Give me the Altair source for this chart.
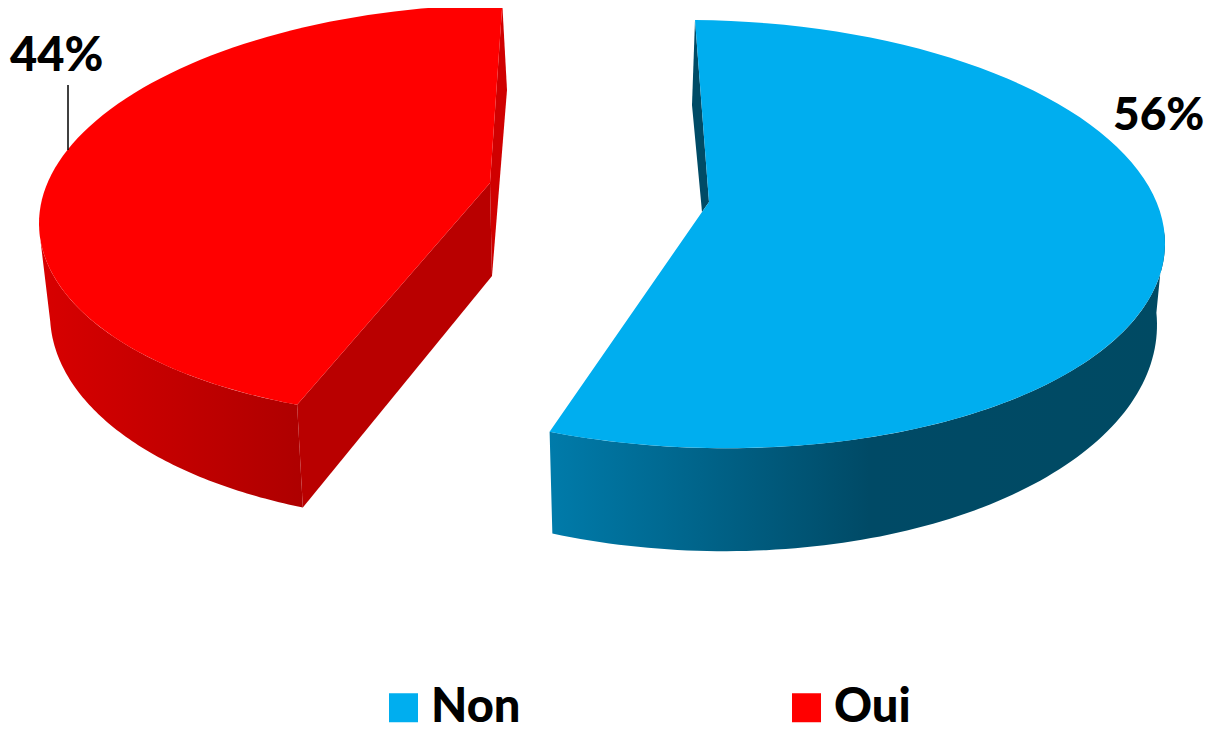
import math
import altair as alt

labels = ["Non", "Oui"]
shares = [56, 44]
colors = ["#00AEEF", "#FF0000"]
OFF = 8  # page margin


def ell(e, t):
    r = math.radians(t)
    dx = e["a"] * math.cos(r)
    s = math.sin(r)
    b = e["b2"] if s > 0 and "b2" in e else e["b"]
    return [e["cx"] + dx - OFF, e["cy"] + b * s + e["k"] * dx - OFF]


def arc(e, t0, t1, n=90):
    return [ell(e, t0 + (t1 - t0) * i / n) for i in range(n + 1)]


def shift(p):
    return [p[0] - OFF, p[1] - OFF]


def feature(ring, name):
    ring = ring + [ring[0]]
    return {"type": "Feature", "properties": {"label": name},
            "geometry": {"type": "Polygon", "coordinates": [ring]}}


# slice geometry on the page (tilted-disc look)
non = dict(top=dict(cx=707, cy=234.1, a=458, b=213.9, k=0.02),
           bot=dict(cx=707, cy=316, a=450, b=235, k=0.02),
           t0=-91.5, apex=(709, 202), apex_low=(702, 212), back=(692, 105))
oui = dict(top=dict(cx=480, cy=210, a=441, b=205, b2=208, k=-0.03),
           bot=dict(cx=482, cy=301, a=432, b=221, k=-0.03),
           t0=114.5, apex=(490, 183), apex_low=(492, 276), back=(507, 90))

non_t1 = non["t0"] + shares[0] * 3.6
oui_t1 = oui["t0"] + shares[1] * 3.6

# top faces
face_non = arc(non["top"], non["t0"], non_t1) + [shift(non["apex_low"]), shift(non["apex"])]
face_oui = arc(oui["top"], oui["t0"], oui_t1) + [shift(oui["apex"])]
faces = [feature(face_non, labels[0]), feature(face_oui, labels[1])]

# curved walls
wall_non = arc(non["top"], -3, non_t1) + arc(non["bot"], non_t1, -3)
wall_oui = arc(oui["top"], oui["t0"], 178) + arc(oui["bot"], 178, oui["t0"])

# cut faces
cut_oui = [shift(oui["apex"]), ell(oui["top"], oui["t0"]), ell(oui["bot"], oui["t0"]), shift(oui["apex_low"])]
strip_oui = [ell(oui["top"], oui_t1), shift(oui["back"]), shift(oui["apex_low"]), shift(oui["apex"])]
strip_non = [ell(non["top"], non["t0"]), shift(non["back"]), shift(non["apex_low"]), shift(non["apex"])]

proj = dict(type="identity", scale=1, translate=[0, 0])


def shape(ring, name, fill):
    return (alt.Chart(alt.Data(values=[feature(ring, name)]))
            .mark_geoshape(fill=fill, strokeWidth=0)
            .project(**proj))


grad_non = alt.LinearGradient(gradient="linear", x1=0, x2=1, y1=0, y2=0,
                              stops=[alt.GradientStop(color="#007BAA", offset=0),
                                     alt.GradientStop(color="#004A66", offset=0.52),
                                     alt.GradientStop(color="#004A63", offset=1)])
grad_oui = alt.LinearGradient(gradient="linear", x1=0, x2=1, y1=0, y2=0,
                              stops=[alt.GradientStop(color="#D80000", offset=0),
                                     alt.GradientStop(color="#AE0000", offset=1)])

top = (alt.Chart(alt.Data(values=faces))
       .mark_geoshape(strokeWidth=0)
       .encode(color=alt.Color("properties.label:N",
                               scale=alt.Scale(domain=labels, range=colors),
                               legend=alt.Legend(
                                   title=None, orient="none", direction="horizontal",
                                   legendX=372, legendY=676,
                                   symbolType="square", symbolSize=841, symbolStrokeWidth=0,
                                   symbolOpacity=1, symbolOffset=0,
                                   labelFont="Lato", labelFontSize=47, labelFontWeight=900,
                                   labelColor="#000000", labelOffset=4, labelLimit=300,
                                   columnPadding=262, columns=2)))
       .project(**proj))

text_font = dict(font="Lato", fontSize=47, fontWeight=900, color="#000000", align="left", baseline="alphabetic")
lab_oui = alt.Chart(alt.Data(values=[{"t": f"{shares[1]}%"}])).mark_text(**text_font).encode(
    text="t:N", x=alt.value(2), y=alt.value(63))
lab_non = alt.Chart(alt.Data(values=[{"t": f"{shares[0]}%"}])).mark_text(**{**text_font, "fontSize": 46}).encode(
    text="t:N", x=alt.value(1105), y=alt.value(122))
leader = alt.Chart(alt.Data(values=[{"t": 1}])).mark_rule(color="#000000", strokeWidth=1.5).encode(
    x=alt.value(60), y=alt.value(77), y2=alt.value(142))

chart = alt.layer(
    shape(wall_oui, labels[1], grad_oui),
    shape(strip_oui, labels[1], "#D00000"),
    shape(cut_oui, labels[1], "#B90000"),
    shape(strip_non, labels[0], "#004B66"),
    shape(wall_non, labels[0], grad_non),
    top, lab_oui, lab_non, leader,
).properties(
    width=1198, height=723, padding=0,
    autosize=alt.AutoSizeParams(type="none"),
).configure_view(stroke=None)

chart.save("out.html", embed_options={"renderer": "svg", "actions": False})
